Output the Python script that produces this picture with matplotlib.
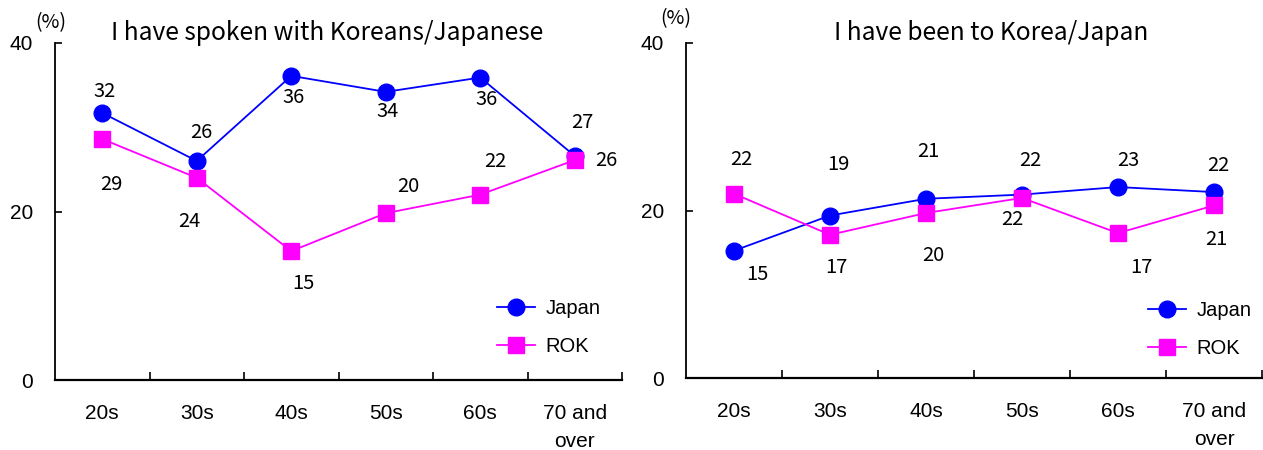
import matplotlib
matplotlib.use("Agg")
import matplotlib.pyplot as plt

# Age groups and survey results (%)
categories = ["20s", "30s", "40s", "50s", "60s", "70 and\nover"]

spoken_japan = [31.7, 26.0, 36.1, 34.2, 35.9, 26.6]
spoken_rok = [28.6, 24.0, 15.3, 19.8, 22.0, 26.1]

visited_japan = [15.2, 19.4, 21.4, 21.9, 22.8, 22.2]
visited_rok = [22.0, 17.1, 19.7, 21.5, 17.3, 20.6]

titles = ["I have spoken with Koreans/Japanese", "I have been to Korea/Japan"]
series_names = ["Japan", "ROK"]
yticks = [0, 20, 40]

# label offsets (pixels) for each point label
spoken_japan_off = [(2, 21), (5, 28), (2, -22), (2, -20), (6, -22), (8, 33)]
spoken_rok_off = [(9, -45), (-7, -44), (12, -32), (23, 27), (15, 33), (32, 0)]
visited_japan_off = [(23, -24), (8, 51), (2, 47), (8, 34), (10, 27), (4, 27)]
visited_rok_off = [(7, 34), (6, -33), (7, -42), (-10, -22), (23, -34), (2, -34)]

W, H = 1263, 450
fig = plt.figure(figsize=(W / 100, H / 100), dpi=100)

JP_FONT = ["Noto Sans CJK JP", "DejaVu Sans"]
AR_FONT = ["Liberation Sans", "DejaVu Sans"]
BLUE = "#0000ff"
MAGENTA = "#ff00ff"


def px(x, y):
    return (x / W, 1 - y / H)


def fmt(v):
    return str(int(v + 0.5))


panels = [
    dict(rect=[55 / W, 70 / H, (622 - 55) / W, (380 - 43) / H],
         jp=spoken_japan, rok=spoken_rok,
         jp_off=spoken_japan_off, rok_off=spoken_rok_off,
         title_xy=(327, 33), pct_xy=(51, 23), legend_xy=(497, 299)),
    dict(rect=[686 / W, 72 / H, (1262 - 686) / W, (378 - 43) / H],
         jp=visited_japan, rok=visited_rok,
         jp_off=visited_japan_off, rok_off=visited_rok_off,
         title_xy=(991, 33), pct_xy=(676, 19), legend_xy=(1148, 301)),
]

x = list(range(len(categories)))

for i, p in enumerate(panels):
    ax = fig.add_axes(p["rect"])
    ax.plot(x, p["jp"], color=BLUE, lw=1.3, marker="o", ms=12,
            mfc=BLUE, mec=BLUE, label=series_names[0], zorder=3)
    ax.plot(x, p["rok"], color=MAGENTA, lw=1.3, marker="s", ms=11.5,
            mfc=MAGENTA, mec=MAGENTA, label=series_names[1], zorder=3)

    for vals, offs in ((p["jp"], p["jp_off"]), (p["rok"], p["rok_off"])):
        for xi, v, (dx, dy) in zip(x, vals, offs):
            ax.annotate(fmt(v), (xi, v), xytext=(dx, dy),
                        textcoords="offset pixels", ha="center", va="center",
                        fontsize=14.5, family=JP_FONT, color="black")

    ax.set_xlim(-0.5, len(categories) - 0.5)
    ax.set_ylim(0, 40)
    ax.set_yticks(yticks)
    ax.set_yticklabels([str(t) for t in yticks], family=AR_FONT, fontsize=15)
    ax.set_xticks(x)
    ax.set_xticklabels(categories, family=AR_FONT, fontsize=15,
                       linespacing=1.65, va="top")
    ax.set_xticks([k + 0.5 for k in x], minor=True)
    ax.tick_params(axis="x", which="major", length=0, pad=17)
    ax.tick_params(axis="x", which="minor", direction="in", length=6, width=1.2)
    ax.tick_params(axis="y", direction="in", length=5, width=1.2, pad=16)

    for s in ("top", "right"):
        ax.spines[s].set_visible(False)
    ax.spines["left"].set_linewidth(1.3)
    ax.spines["bottom"].set_linewidth(1.6)
    ax.set_facecolor("none")

    tx, ty = p["title_xy"]
    fig.text(*px(tx, ty), titles[i], ha="center", va="center",
             fontsize=17.7, family=JP_FONT)
    cx, cy = p["pct_xy"]
    fig.text(*px(cx, cy), "(%)", ha="center", va="center",
             fontsize=14, family=JP_FONT)

    ax.legend(loc="upper left", bbox_to_anchor=px(*p["legend_xy"]),
              bbox_transform=fig.transFigure, frameon=False,
              borderpad=0, borderaxespad=0, handlelength=1.9,
              handletextpad=0.5, labelspacing=0.95,
              prop={"family": AR_FONT, "size": 14.5})

fig.savefig("out.png", dpi=100)
